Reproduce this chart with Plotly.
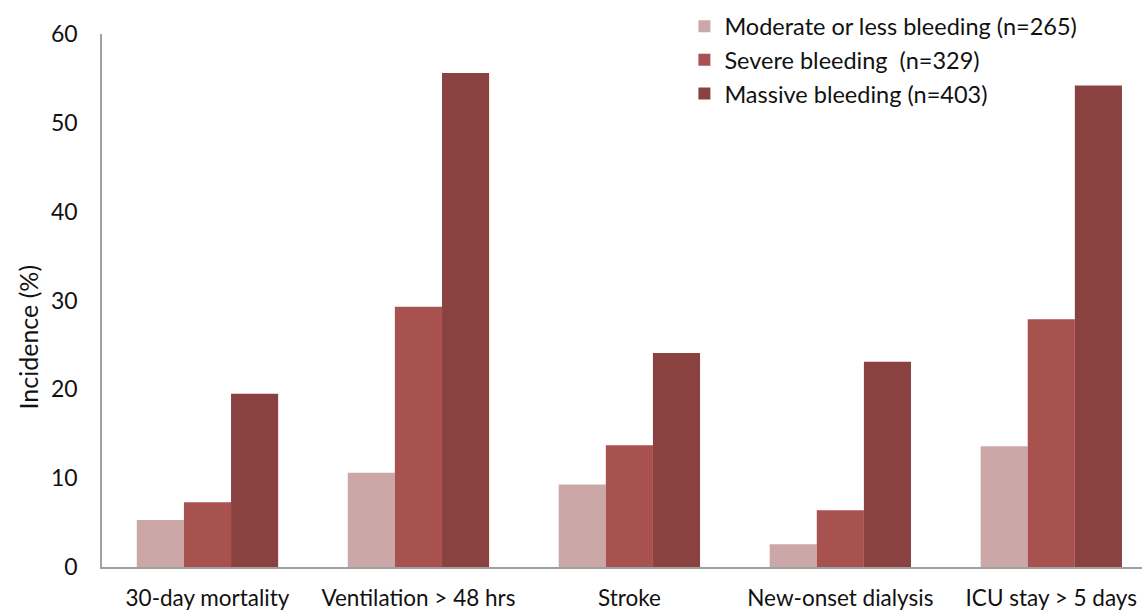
import plotly.graph_objects as go

categories = ["30-day mortality", "Ventilation > 48 hrs", "Stroke", "New-onset dialysis", "ICU stay > 5 days"]
moderate = [5.3, 10.6, 9.3, 2.55, 13.6]
severe = [7.3, 29.3, 13.7, 6.4, 27.9]
massive = [19.5, 55.6, 24.1, 23.1, 54.2]
series_names = ["Moderate or less bleeding (n=265)", "Severe bleeding  (n=329)", "Massive bleeding (n=403)"]
colors = ["#CBA7A7", "#A85250", "#8A4241"]
y_ticks = [0, 10, 20, 30, 40, 50, 60]

fig = go.Figure()
for name, vals, c in zip(series_names, [moderate, severe, massive], colors):
    fig.add_trace(go.Bar(x=categories, y=vals, name=name, marker=dict(color=c, line=dict(width=0))))

font = "Lato, 'Open Sans', sans-serif"
fig.update_layout(
    width=1142, height=611,
    paper_bgcolor="white", plot_bgcolor="white",
    margin=dict(l=101.5, r=0, t=33.5, b=43.5, autoexpand=False),
    barmode="group", bargap=0.33, bargroupgap=0,
    font=dict(family=font, size=23, color="#111111"),
    legend=dict(x=0.56, y=1.0553, xanchor="left", yanchor="top",
                font=dict(size=23.5), itemwidth=30, tracegroupgap=0,
                bgcolor="rgba(0,0,0,0)"),
    showlegend=True,
    annotations=[dict(text="Incidence (%)", textangle=-90, xref="paper", yref="paper",
                      x=-0.0716, y=0.4316, xanchor="center", yanchor="middle",
                      showarrow=False, font=dict(size=25, color="#111111"))],
)
fig.update_yaxes(range=[0, 60], tickvals=y_ticks, showgrid=False, zeroline=False,
                 showline=True, linecolor="#A0A0A0", linewidth=1.5,
                 ticks="", ticklabelstandoff=18, automargin=False)
fig.update_xaxes(range=[-0.5, 4.43], showgrid=False, showline=True, linecolor="#A0A0A0", linewidth=1.5,
                 ticks="", ticklabelstandoff=10, automargin=False, tickfont=dict(size=22.5))

fig.write_html("out.html", config={"displayModeBar": False},
               post_script="document.body.style.margin='0';document.body.style.overflow='hidden';")
